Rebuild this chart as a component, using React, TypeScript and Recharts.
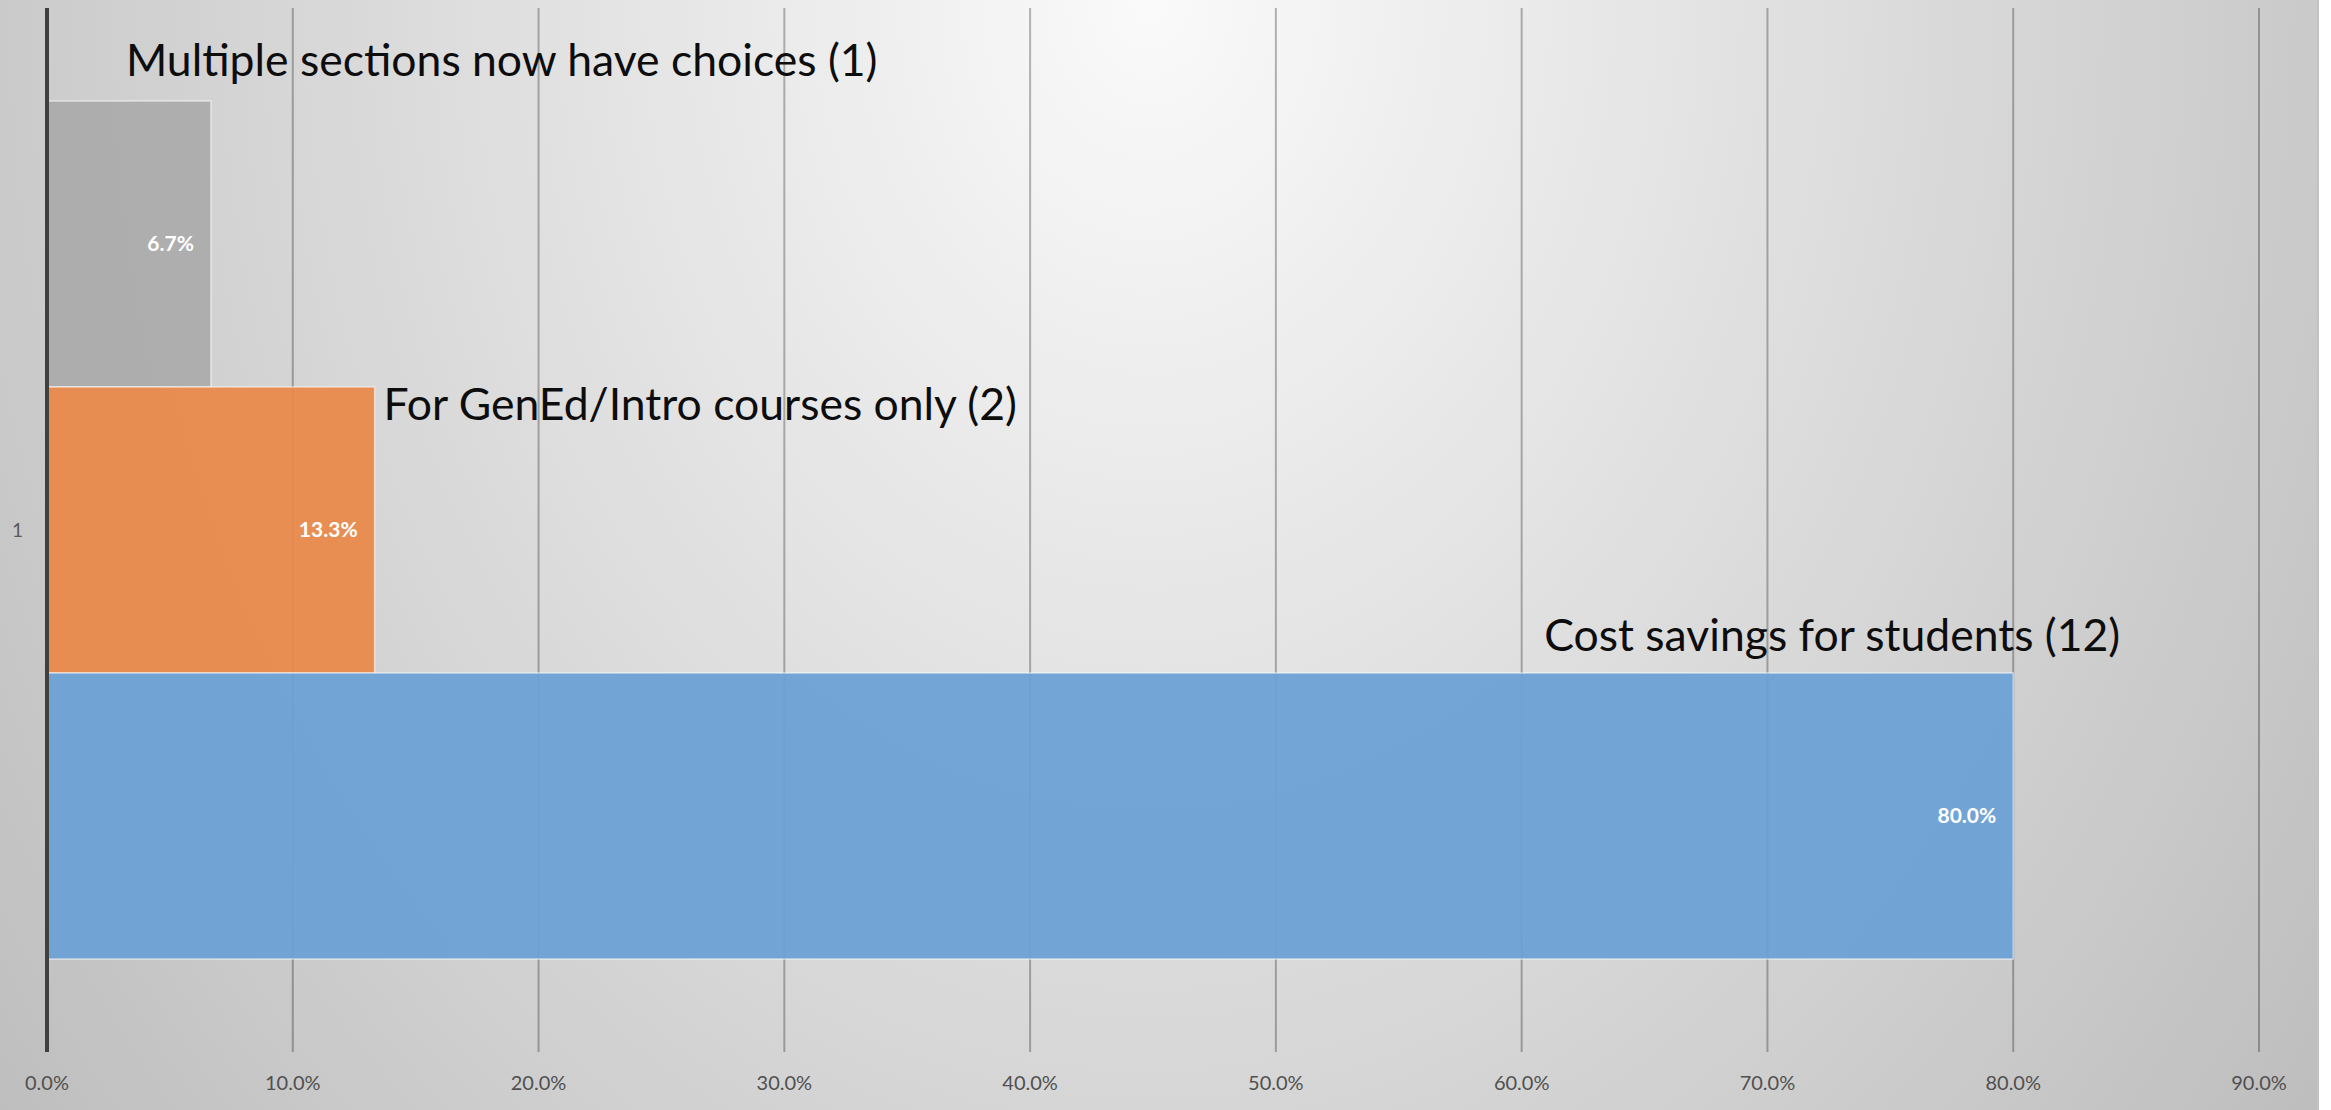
import React from 'react';
import { BarChart, Bar, XAxis, YAxis, CartesianGrid, LabelList } from 'recharts';

const categories = ['1'];
const seriesKeys = ['multi', 'gened', 'cost'];
const seriesNames = ['Multiple sections now have choices (1)', 'For GenEd/Intro courses only (2)', 'Cost savings for students (12)'];
const seriesValues = [0.0667, 0.1333, 0.8];
const seriesColors = ['#ababab', '#e9894a', '#6ba2d5'];
const xTicks = [0, 0.1, 0.2, 0.3, 0.4, 0.5, 0.6, 0.7, 0.8, 0.9];

// where each series name sits, relative to the bar's end (dx) and top (dy, baseline)
const nameOffsets = [
  { dx: -85, dy: -25 },
  { dx: 9, dy: 33 },
  { dx: -469, dy: -22 },
];

const data = categories.map((cat) => {
  const row: Record<string, string | number> = { cat };
  seriesKeys.forEach((k, i) => { row[k] = seriesValues[i]; });
  return row;
});

const pct = (v: number) => `${(v * 100).toFixed(1)}%`;
const FONT = 'Lato, "Open Sans", sans-serif';

const nameLabel = (i: number) => (props: any) => {
  const box = props.viewBox ?? props;
  const x = Number(box.x) + Number(box.width);
  const y = Number(box.y);
  return (
    <text x={x + nameOffsets[i].dx} y={y + nameOffsets[i].dy} fontFamily={FONT} fontSize={44.5} fill="#0d0d0d" textAnchor="start">
      {seriesNames[i]}
    </text>
  );
};

export default function App() {
  return (
    <div style={{
      position: 'absolute', left: 0, top: 0, width: 2317, height: 1110,
      borderRight: '2px solid #c2c2c2',
      background: 'radial-gradient(ellipse 1500px 1900px at 1150px 0px, #fafafa 0%, #bcbcbc 100%)',
    }}>
      <BarChart width={2317} height={1110} data={data} layout="vertical"
        margin={{ top: 8, right: 58, bottom: 0, left: 0 }}
        barCategoryGap="8.9%" barGap={0}>
        <CartesianGrid horizontal={false} stroke="#000" strokeOpacity={0.28} strokeWidth={2} verticalValues={xTicks} />
        <XAxis type="number" domain={[0, 0.9]} ticks={xTicks} tickFormatter={pct} height={58}
          axisLine={false} tickLine={false} tickSize={0} tickMargin={24}
          tick={{ fill: '#505050', fontSize: 20, fontFamily: FONT }} />
        <YAxis type="category" dataKey="cat" width={47} tickLine={false} tickSize={0} tickMargin={24}
          axisLine={{ stroke: '#404040', strokeWidth: 4 }}
          tick={{ fill: '#595959', fontSize: 19, fontFamily: FONT }} />
        {seriesKeys.map((k, i) => (
          <Bar key={k} dataKey={k} name={seriesNames[i]} fill={seriesColors[i]} fillOpacity={0.94}
            stroke="#ffffff" strokeOpacity={0.55} strokeWidth={1.5} isAnimationActive={false}>
            <LabelList dataKey={k} position="insideRight" offset={17} formatter={(v: any) => pct(Number(v))}
              fill="#ffffff" fontSize={21} fontWeight="bold" fontFamily={FONT} />
            <LabelList dataKey={k} content={nameLabel(i)} />
          </Bar>
        ))}
      </BarChart>
    </div>
  );
}
